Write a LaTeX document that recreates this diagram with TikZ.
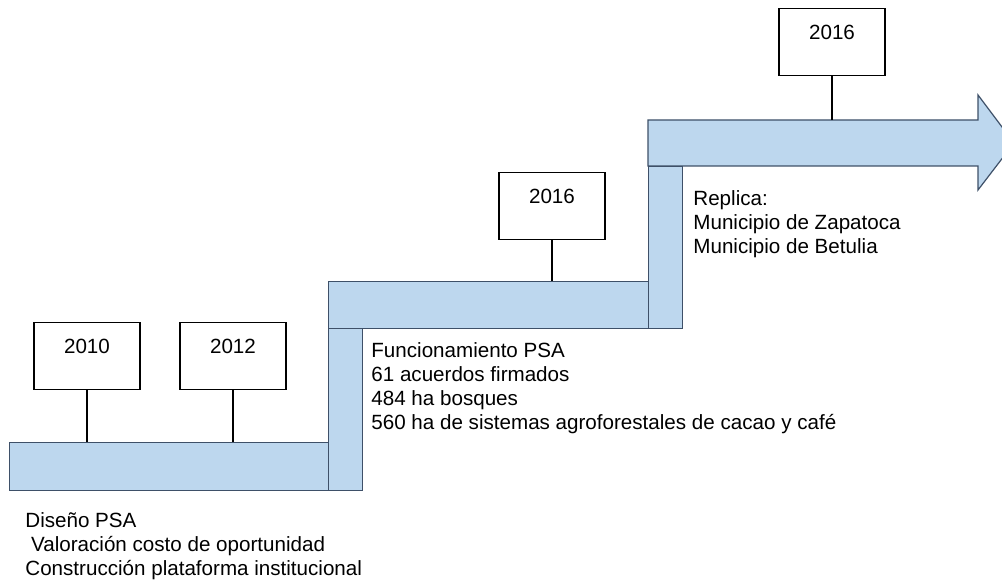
\documentclass[tikz,border=0pt]{standalone}
\usepackage{fontspec}
\setmainfont{Liberation Sans}
\definecolor{barfill}{RGB}{189,215,238}
\definecolor{barline}{RGB}{62,80,104}

\begin{document}
\begin{tikzpicture}[x=0.5pt, y=-0.5pt, font=\fontsize{10.3}{12}\selectfont,
    yearbox/.style={draw, line width=0.6pt, inner sep=0pt, anchor=north,
                    minimum width=53pt, text height=15.5pt, text depth=18pt},
    barpart/.style={draw=barline, fill=barfill, line width=0.6pt,
                    inner sep=0pt, anchor=north west},
    notes/.style={align=left, anchor=base west, inner sep=0pt}]
\useasboundingbox (0,0) rectangle (1002,582);
\clip (0,0) rectangle (1002,582);

\node[barpart, minimum width=159.5pt, minimum height=24pt] (bar1) at (9,442) {};
\node[barpart, minimum width=17pt, minimum height=81pt] (rise1) at (328,328) {};
\node[barpart, minimum width=160pt, minimum height=23.5pt] (bar2) at (328,281) {};
\node[barpart, minimum width=17pt, minimum height=81pt] (rise2) at (648,166) {};
\coordinate (bar3) at (648,120);
\draw[draw=barline, fill=barfill, line width=0.6pt]
  (bar3) -- (978,120) -- (978,95) -- (1014,143) -- (978,190)
  -- (978,166) -- (648,166) -- cycle;

\node[yearbox] (y2010) at (87,322) {2010};
\node[yearbox] (y2012) at (233,322) {2012};
\node[yearbox] (y2016a) at (552,172) {2016};
\node[yearbox] (y2016b) at (832,8) {2016};

\draw[line width=0.6pt] (y2010.south) -- (y2010.south |- bar1.north);
\draw[line width=0.6pt] (y2012.south) -- (y2012.south |- bar1.north);
\draw[line width=0.6pt] (y2016a.south) -- (y2016a.south |- bar2.north);
\draw[line width=0.6pt] (y2016b.south) -- (y2016b.south |- bar3);

% the base of a node with several lines is its last line
\node[notes] (diseno) at (25,575)
  {Diseño PSA\\\ Valoración costo de oportunidad\\Construcción plataforma institucional};
\node[notes] (funcion) at (371,430)
  {Funcionamiento PSA\\61 acuerdos firmados\\484 ha bosques\\560 ha de sistemas agroforestales de cacao y café};
\node[notes] (replica) at (693,254)
  {Replica:\\Municipio de Zapatoca\\Municipio de Betulia};
\end{tikzpicture}
\end{document}
